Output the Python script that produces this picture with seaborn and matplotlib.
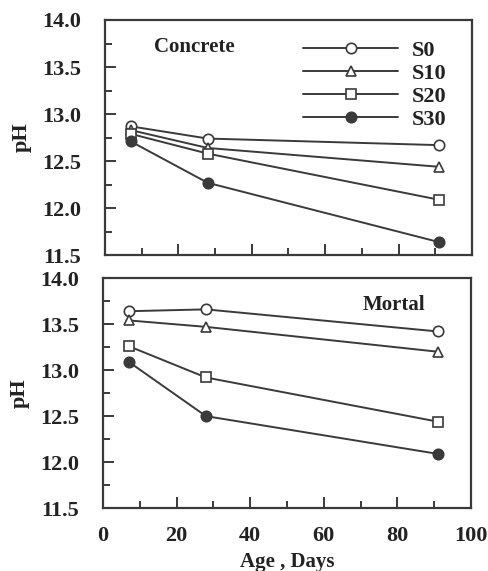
import matplotlib
matplotlib.use("Agg")
import matplotlib.pyplot as plt
from matplotlib.lines import Line2D
from matplotlib.ticker import MultipleLocator
import seaborn as sns
import pandas as pd

sns.set_style("white")
plt.rcParams['font.family'] = ['Liberation Serif', 'DejaVu Serif']
plt.rcParams['font.weight'] = 'bold'

age = [7, 28, 91]
series = ["S0", "S10", "S20", "S30"]
concrete = {
    "S0": [12.87, 12.74, 12.67],
    "S10": [12.83, 12.64, 12.44],
    "S20": [12.79, 12.58, 12.09],
    "S30": [12.71, 12.27, 11.64],
}
mortal = {
    "S0": [13.64, 13.66, 13.42],
    "S10": [13.54, 13.47, 13.20],
    "S20": [13.26, 12.92, 12.44],
    "S30": [13.09, 12.50, 12.09],
}
markers = {"S0": "o", "S10": "^", "S20": "s", "S30": "o"}
filled = {"S0": False, "S10": False, "S20": False, "S30": True}

ink = "#3a3a3a"
fig = plt.figure(figsize=(4.88, 5.71), dpi=100)
ax1 = fig.add_axes([0.215, 0.553, 0.752, 0.412])
ax2 = fig.add_axes([0.211, 0.110, 0.754, 0.403])

def draw(ax, data, name, name_xy):
    for s in series:
        df = pd.DataFrame({"Age": age, "pH": data[s]})
        sns.lineplot(data=df, x="Age", y="pH", ax=ax, color=ink, lw=1.4,
                     marker=markers[s], markersize=7.5 if s != "S10" else 7,
                     markerfacecolor=ink if filled[s] else "white",
                     markeredgecolor=ink, markeredgewidth=1.2)
    ax.set_xlim(0, 100)
    ax.set_ylim(11.5, 14.0)
    ax.xaxis.set_major_locator(MultipleLocator(20))
    ax.xaxis.set_minor_locator(MultipleLocator(10))
    ax.yaxis.set_major_locator(MultipleLocator(0.5))
    ax.yaxis.set_minor_locator(MultipleLocator(0.25))
    ax.tick_params(which="both", direction="in", color=ink, width=1.4,
                   bottom=True, left=True, top=False, right=False)
    ax.tick_params(which="major", length=8)
    ax.tick_params(which="minor", length=5)
    ax.tick_params(axis="y", which="major", pad=17, labelsize=16)
    ax.tick_params(axis="x", which="major", pad=13, labelsize=16)
    ax.set_yticks([11.5, 12.0, 12.5, 13.0, 13.5, 14.0])
    ax.set_yticklabels(["11.5", "12.0", "12.5", "13.0", "13.5", "14.0"], fontweight="bold", color="#222")
    for sp in ax.spines.values():
        sp.set_linewidth(1.6)
        sp.set_color(ink)
    ax.set_ylabel("pH", fontsize=16, fontweight="bold", color="#222")
    ax.yaxis.set_label_coords(-0.2, 0.5)
    ax.text(name_xy[0], name_xy[1], name, transform=ax.transAxes,
            fontsize=15, fontweight="bold", color="#222")

draw(ax1, concrete, "Concrete", (0.135, 0.865))
draw(ax2, mortal, "Mortal", (0.705, 0.86))

ax1.set_xticklabels([])
ax1.set_xlabel("")
ax2.set_xticks([0, 20, 40, 60, 80, 100])
ax2.set_xticklabels(["0", "20", "40", "60", "80", "100"], fontweight="bold", color="#222")
ax2.set_xlabel("Age , Days", fontsize=15, fontweight="bold", color="#222", labelpad=4)

handles = [Line2D([], [], color=ink, lw=1.4, marker=markers[s], markersize=7.5,
                  markerfacecolor=ink if filled[s] else "white",
                  markeredgecolor=ink, markeredgewidth=1.2) for s in series]
leg = ax1.legend(handles, series, loc="upper right", bbox_to_anchor=(0.985, 1.0),
                 frameon=False, handlelength=4.3, handletextpad=0.6,
                 labelspacing=0.12, prop={"family": "Liberation Serif", "weight": "bold", "size": 16})
for t in leg.get_texts():
    t.set_color("#222")

fig.savefig("out.png", dpi=100)
